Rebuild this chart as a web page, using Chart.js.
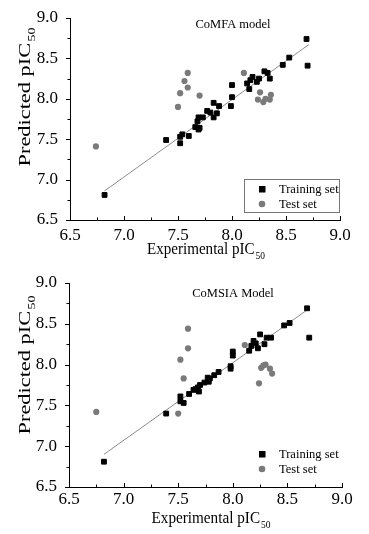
<!DOCTYPE html>
<html>
<head>
<meta charset="utf-8">
<script src="https://cdn.jsdelivr.net/npm/chart.js@4.4.1/dist/chart.umd.min.js"></script>
<style>
  html, body { margin: 0; padding: 0; background: #fff; }
  .panel { position: absolute; left: 0; width: 369px; height: 267px; }
</style>
</head>
<body>
<div class="panel" style="top:0"><canvas id="comfaChart" width="369" height="267"></canvas></div>
<div class="panel" style="top:267px"><canvas id="comsiaChart" width="369" height="267"></canvas></div>
<script>
// CoMFA model - training set (experimental / predicted pIC50)
const comfaTrainExp  = [8.69, 8.70, 8.53, 8.47, 8.35, 8.30, 8.33, 8.25, 8.23, 8.19, 8.17, 8.14, 8.16, 8.00, 8.00, 7.99, 7.88, 7.83, 7.86, 7.83, 7.77, 7.80, 7.69, 7.73, 7.68, 7.66, 7.69, 7.70, 7.60, 7.54, 7.52, 7.39, 7.52, 6.82];
const comfaTrainPred = [8.74, 8.41, 8.51, 8.42, 8.25, 8.34, 8.32, 8.25, 8.21, 8.27, 8.23, 8.19, 8.12, 8.17, 8.02, 7.91, 7.91, 7.95, 7.82, 7.77, 7.85, 7.83, 7.77, 7.77, 7.72, 7.65, 7.62, 7.64, 7.54, 7.56, 7.53, 7.49, 7.45, 6.81];
// CoMFA model - test set
const comfaTestExp   = [7.59, 7.56, 7.59, 7.52, 7.70, 7.50, 8.11, 8.26, 8.24, 8.29, 8.31, 8.35, 8.36, 6.74];
const comfaTestPred  = [8.32, 8.22, 8.14, 8.07, 8.04, 7.90, 8.32, 8.08, 7.99, 7.96, 8.00, 7.99, 8.05, 7.41];
// CoMFA regression line end points
const comfaFitExp    = [6.82, 8.71];
const comfaFitPred   = [6.86, 8.67];

// CoMSIA model - training set
const comsiaTrainExp  = [8.68, 8.70, 8.52, 8.47, 8.35, 8.31, 8.25, 8.29, 8.19, 8.21, 8.17, 8.23, 8.15, 8.00, 8.00, 7.98, 7.98, 7.87, 7.83, 7.79, 7.77, 7.78, 7.74, 7.70, 7.68, 7.69, 7.66, 7.64, 7.60, 7.52, 7.52, 7.55, 7.39, 6.82];
const comsiaTrainPred = [8.69, 8.33, 8.51, 8.48, 8.33, 8.33, 8.37, 8.25, 8.29, 8.26, 8.23, 8.20, 8.17, 8.16, 8.11, 7.98, 7.95, 7.91, 7.87, 7.83, 7.84, 7.79, 7.78, 7.75, 7.72, 7.67, 7.70, 7.69, 7.64, 7.61, 7.55, 7.53, 7.40, 6.81];
// CoMSIA model - test set
const comsiaTestExp   = [7.59, 7.59, 7.52, 7.55, 7.50, 8.11, 8.24, 8.26, 8.28, 8.30, 8.34, 8.36, 6.75];
const comsiaTestPred  = [8.44, 8.20, 8.06, 7.83, 7.40, 8.24, 7.77, 7.96, 7.99, 8.00, 7.95, 7.89, 7.42];
// CoMSIA regression line end points
const comsiaFitExp    = [6.82, 8.67];
const comsiaFitPred   = [6.90, 8.66];

const axisMin = 6.5, axisMax = 9.0;
const FONT = '"Liberation Serif", "Times New Roman", serif';

const toPoints = (xs, ys) => xs.map((x, i) => ({ x: x, y: ys[i] }));

// text with a subscript, centred on x and stretched to a given length
function subText(ctx, main, sub, x, y, size, length) {
    const big = size + 'px ' + FONT;
    const small = Math.round(size * 0.62) + 'px ' + FONT;
    ctx.font = big;
    const w1 = ctx.measureText(main).width;
    ctx.font = small;
    const w2 = ctx.measureText(sub).width;
    const total = w1 + 1 + w2;
    const k = length ? length / total : 1;
    ctx.save();
    ctx.translate(x, y);
    ctx.scale(k, 1);
    ctx.textAlign = 'left';
    ctx.textBaseline = 'alphabetic';
    ctx.font = big;
    ctx.fillText(main, -total / 2, 0);
    ctx.font = small;
    ctx.fillText(sub, -total / 2 + w1 + 1, size * 0.3);
    ctx.restore();
}

// ticks, titles and legend drawn on top of the chart
const decor = {
    id: 'decor',
    afterDraw(chart, args, o) {
        const ctx = chart.ctx;
        const xs = chart.scales.x, ys = chart.scales.y;
        const a = chart.chartArea;
        ctx.save();
        ctx.strokeStyle = '#000';
        ctx.lineWidth = 1;
        for (let k = 0; k <= (axisMax - axisMin) / 0.25 + 1e-6; k++) {
            const v = axisMin + k * 0.25;
            const len = k % 2 === 0 ? 4 : 2.5;
            const px = Math.round(xs.getPixelForValue(v)) + 0.5;
            ctx.beginPath();
            ctx.moveTo(px, a.bottom);
            ctx.lineTo(px, a.bottom - len);
            ctx.stroke();
            const py = Math.round(ys.getPixelForValue(v)) + 0.5;
            ctx.beginPath();
            ctx.moveTo(a.left, py);
            ctx.lineTo(a.left - len, py);
            ctx.stroke();
        }

        ctx.fillStyle = '#000';
        // axis titles
        subText(ctx, 'Experimental pIC', '50', o.xTitle[0], o.xTitle[1], 16, o.xTitle[2]);
        ctx.save();
        ctx.translate(o.yTitle[0], o.yTitle[1]);
        ctx.rotate(-Math.PI / 2);
        subText(ctx, 'Predicted pIC', '50', 0, 0, 16, o.yTitle[2]);
        ctx.restore();

        // model title
        ctx.font = '12.5px ' + FONT;
        ctx.textAlign = 'center';
        ctx.textBaseline = 'alphabetic';
        ctx.fillText(o.title, o.titlePos[0], o.titlePos[1]);

        // legend
        const lg = o.legend;
        if (lg.box) {
            ctx.strokeStyle = '#777';
            ctx.strokeRect(lg.box[0] + 0.5, lg.box[1] + 0.5, lg.box[2], lg.box[3]);
        }
        const ds = chart.data.datasets;
        [0, 1].forEach(i => {
            const y = lg.y + i * 15;
            ctx.fillStyle = ds[i].backgroundColor;
            if (ds[i].pointStyle === 'rect') {
                ctx.fillRect(lg.x - 3, y - 3, 6.5, 6.5);
            } else {
                ctx.beginPath();
                ctx.arc(lg.x, y, 3.3, 0, Math.PI * 2);
                ctx.fill();
            }
            ctx.fillStyle = '#000';
            ctx.font = '12.5px ' + FONT;
            ctx.textAlign = 'left';
            ctx.textBaseline = 'middle';
            ctx.fillText(ds[i].label, lg.x + 17, y + 1);
        });
        ctx.restore();
    }
};

function makeChart(id, train, test, fit, look) {
    const ctx = document.getElementById(id).getContext('2d');
    return new Chart(ctx, {
        type: 'scatter',
        data: {
            datasets: [{
                label: 'Training set',
                data: train,
                pointStyle: 'rect',
                radius: 3.4,
                backgroundColor: '#000',
                borderColor: '#000',
                borderWidth: 1,
                order: 1
            }, {
                label: 'Test set',
                data: test,
                pointStyle: 'circle',
                radius: 3.1,
                backgroundColor: '#7a7a7a',
                borderColor: '#7a7a7a',
                borderWidth: 0,
                order: 2
            }, {
                label: 'fit',
                data: fit,
                showLine: true,
                pointRadius: 0,
                borderColor: '#8c8c8c',
                borderWidth: 1,
                order: 3
            }]
        },
        options: {
            responsive: false,
            animation: false,
            devicePixelRatio: 1,
            layout: { padding: look.padding },
            plugins: {
                legend: { display: false },
                tooltip: { enabled: false },
                decor: look
            },
            scales: {
                x: {
                    type: 'linear',
                    min: axisMin,
                    max: axisMax,
                    grid: { display: false },
                    border: { display: true, color: '#000', width: 1 },
                    ticks: {
                        stepSize: 0.5,
                        padding: look.xTickPad,
                        color: '#000',
                        font: { family: FONT, size: 17 },
                        callback: v => v.toFixed(1)
                    },
                    afterFit: s => { s.height = look.xAxisHeight; }
                },
                y: {
                    type: 'linear',
                    min: axisMin,
                    max: axisMax,
                    grid: { display: false },
                    border: { display: true, color: '#000', width: 1 },
                    ticks: {
                        stepSize: 0.5,
                        padding: 4,
                        color: '#000',
                        font: { family: FONT, size: 17 },
                        callback: v => v.toFixed(1)
                    },
                    afterFit: s => { s.width = look.yAxisWidth; }
                }
            }
        },
        plugins: [decor]
    });
}

makeChart('comfaChart',
    toPoints(comfaTrainExp, comfaTrainPred),
    toPoints(comfaTestExp, comfaTestPred),
    toPoints(comfaFitExp, comfaFitPred),
    {
        padding: { left: 0, right: 29, top: 18, bottom: 0 },
        yAxisWidth: 70,
        xAxisHeight: 47,
        xTickPad: -3,
        title: 'CoMFA model',
        titlePos: [233, 28],
        xTitle: [206, 254, 118],
        yTitle: [30, 97, 139],
        legend: { x: 262, y: 189, box: [244, 179, 95, 33] }
    });

makeChart('comsiaChart',
    toPoints(comsiaTrainExp, comsiaTrainPred),
    toPoints(comsiaTestExp, comsiaTestPred),
    toPoints(comsiaFitExp, comsiaFitPred),
    {
        padding: { left: 0, right: 27, top: 16, bottom: 0 },
        yAxisWidth: 69,
        xAxisHeight: 47,
        xTickPad: -6,
        title: 'CoMSIA Model',
        titlePos: [233, 30],
        xTitle: [211, 256, 119],
        yTitle: [30, 98, 139],
        legend: { x: 262, y: 187, box: null }
    });
</script>
</body>
</html>
